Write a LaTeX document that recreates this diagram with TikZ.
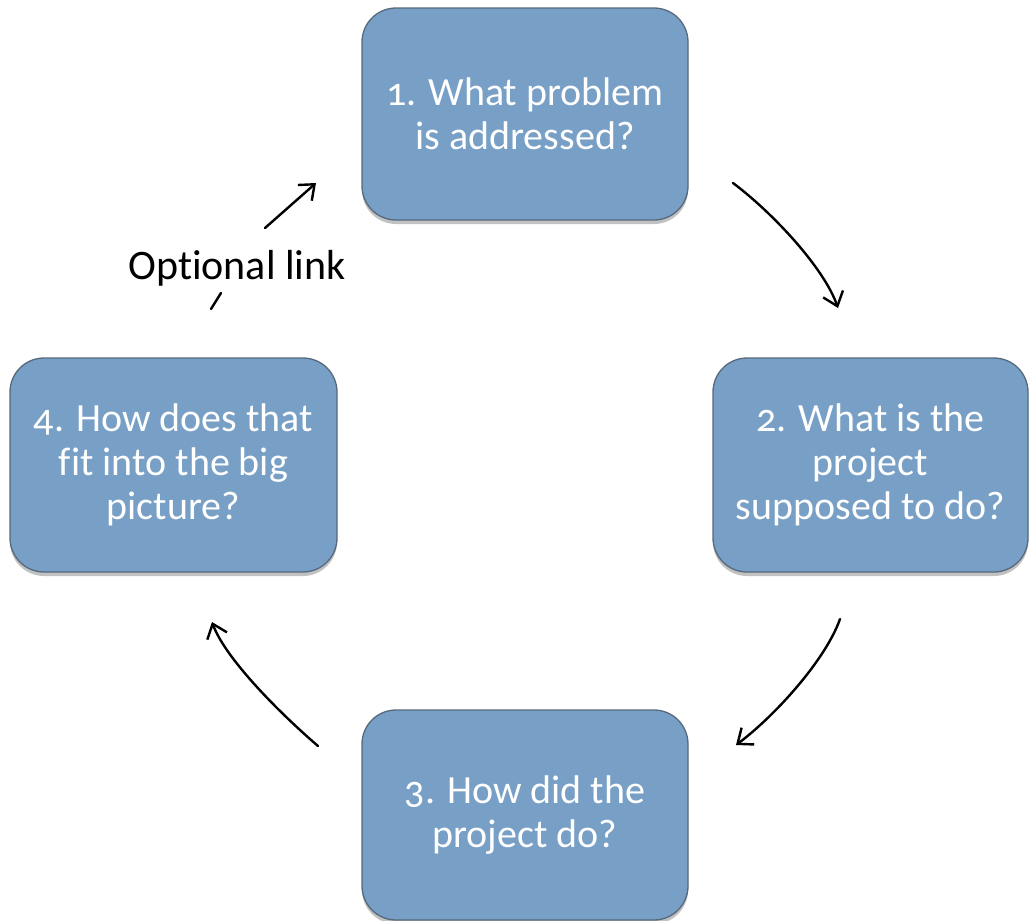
\documentclass[tikz,border=0pt]{standalone}
\usepackage{fontspec}
\setmainfont{Carlito}[Numbers=OldStyle, Ligatures=NoCommon]
\usetikzlibrary{arrows.meta,shadows}
\definecolor{boxfill}{HTML}{789FC5}
\definecolor{boxline}{HTML}{56697D}
\tikzset{
  qbox/.style={draw=boxline, line width=1.3pt, fill=boxfill, rounded corners=34pt,
    text=white, align=center, inner sep=0pt,
    font=\fontsize{40}{44}\selectfont,
    drop shadow={shadow xshift=0pt, shadow yshift=-4pt, opacity=0.35, fill=black!70}},
  flow/.style={line width=2.4pt, line cap=round, -{Straight Barb[length=13pt,width=21pt,line width=2.4pt]}},
  plain/.style={line width=2.4pt, line cap=round},
  lbl/.style={font=\fontsize{42}{46}\selectfont, inner sep=0pt}
}
\begin{document}
\begin{tikzpicture}[x=1pt,y=-1pt]
\useasboundingbox (0,0) rectangle (1029,921);
\node[qbox, minimum width=326pt, minimum height=212pt] (b1) at (525,114) {1. What problem\\is addressed?};
\node[qbox, minimum width=315pt, minimum height=214pt] (b2) at (870.5,465) {2. What is the\\project\\supposed to do?};
\node[qbox, minimum width=326pt, minimum height=210pt] (b3) at (525,815) {3. How did the\\project do?};
\node[qbox, minimum width=327pt, minimum height=214pt] (b4) at (173.5,465) {4. How does that\\fit into the big\\picture?};
\node[lbl] (opt) at (237,268) {Optional link};
% connector end points
\coordinate (a1s) at (733,183);
\coordinate (a1e) at (838,308);
\coordinate (a2s) at (840,619);
\coordinate (a2e) at (736,745);
\coordinate (a3s) at (318,746);
\coordinate (a3e) at (212,622);
\coordinate (a4s) at (211,309);
\coordinate (a4m) at (221,293);
\coordinate (a4n) at (265,228);
\coordinate (a4e) at (316,183);
\draw[flow] (a1s) .. controls (773,213) and (824,268) .. (a1e);
\draw[flow] (a2s) .. controls (826,659) and (776,715) .. (a2e);
\draw[flow] (a3s) .. controls (283,716) and (226,660) .. (a3e);
\draw[plain] (a4s) -- (a4m);
\draw[flow] (a4n) -- (a4e);
\end{tikzpicture}
\end{document}
